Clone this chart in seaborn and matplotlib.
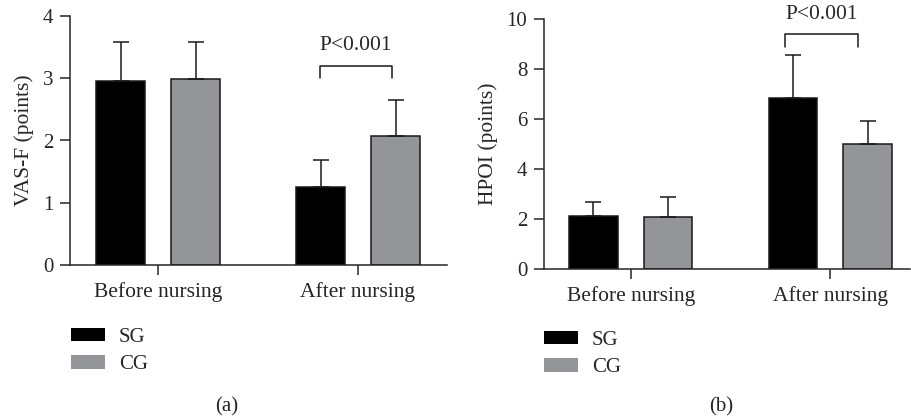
import numpy as np
import pandas as pd
import matplotlib
matplotlib.use("Agg")
import matplotlib.pyplot as plt
import seaborn as sns

categories = ["Before nursing", "After nursing"]
groups = ["SG", "CG"]
vas_sg = [2.96, 1.25]
vas_cg = [2.99, 2.08]
vas_sg_sd = [0.62, 0.44]
vas_cg_sd = [0.59, 0.57]
hpoi_sg = [2.11, 6.86]
hpoi_cg = [2.09, 5.01]
hpoi_sg_sd = [0.59, 1.71]
hpoi_cg_sd = [0.79, 0.90]
p_text = "P<0.001"

sns.set_style("ticks")
plt.rcParams["font.family"] = ["Liberation Serif", "DejaVu Serif"]
plt.rcParams["axes.linewidth"] = 1.1
plt.rcParams["xtick.major.width"] = 1.1
plt.rcParams["ytick.major.width"] = 1.1
plt.rcParams["xtick.major.size"] = 7
plt.rcParams["ytick.major.size"] = 7

palette = {"SG": "#000000", "CG": "#939598"}

fig = plt.figure(figsize=(9.11, 4.19), dpi=100)
ax_a = fig.add_axes([70/911, 1-265/419, (447-70)/911, 249/419])
ax_b = fig.add_axes([544/911, 1-269/419, (910-544)/911, 249.7/419])


def make_df(sg, cg):
    rows = []
    for g, vals in zip(groups, [sg, cg]):
        for c, v in zip(categories, vals):
            rows.append({"cat": c, "group": g, "value": v})
    return pd.DataFrame(rows)


def panel(ax, sg, cg, sg_sd, cg_sd, ylim, yticks, ylabel, xlim, bracket, legend_anchor):
    df = make_df(sg, cg)
    sns.barplot(data=df, x="cat", y="value", hue="group", order=categories,
                hue_order=groups, palette=palette, width=0.75, gap=0.35,
                errorbar=None, edgecolor="#1a1a1a", linewidth=1.1, ax=ax,
                saturation=1)
    for cont, vals, sds in zip(ax.containers, [sg, cg], [sg_sd, cg_sd]):
        xs = [b.get_x() + b.get_width() / 2 for b in cont]
        ax.errorbar(xs, vals, yerr=[np.zeros(len(sds)), sds], fmt="none",
                    ecolor="#1a1a1a", elinewidth=1.1, capsize=6, capthick=1.1,
                    zorder=1)
    ax.set_ylim(*ylim)
    ax.set_yticks(yticks)
    ax.set_xlim(*xlim)
    ax.set_xlabel("")
    ax.set_ylabel(ylabel, fontsize=15.5, labelpad=6)
    ax.tick_params(axis="y", labelsize=15, pad=5)
    ax.tick_params(axis="x", labelsize=15.5, pad=5)
    sns.despine(ax=ax)
    # significance bracket
    x0, x1, yb, yt, ytxt = bracket
    ax.plot([x0, x0, x1, x1], [yb, yt, yt, yb], color="#1a1a1a", lw=1.1,
            clip_on=False)
    ax.text((x0 + x1) / 2, ytxt, p_text, ha="center", va="center",
            fontsize=15.5, clip_on=False)
    sns.move_legend(ax, "upper left", bbox_to_anchor=legend_anchor,
                    bbox_transform=fig.transFigure, frameon=False, title=None,
                    fontsize=15, handlelength=1.65, handleheight=0.6,
                    handletextpad=0.65, labelspacing=0.4, borderpad=0,
                    borderaxespad=0)
    leg = ax.get_legend()
    for h in leg.legend_handles:
        h.set_edgecolor("none")


panel(ax_a, vas_sg, vas_cg, vas_sg_sd, vas_cg_sd, (0, 4), [0, 1, 2, 3, 4],
      "VAS-F (points)", (-0.44, 1.445), (0.81, 1.17, 3.0, 3.2, 3.52),
      (71/911, 1-328/419))
panel(ax_b, hpoi_sg, hpoi_cg, hpoi_sg_sd, hpoi_cg_sd, (0, 10),
      [0, 2, 4, 6, 8, 10], "HPOI (points)", (-0.435, 1.4),
      (0.775, 1.14, 8.9, 9.4, 10.2), (544/911, 1-331/419))

fig.text(227/911, 1-407/419, "(a)", ha="center", va="center", fontsize=15)
fig.text(721/911, 1-407/419, "(b)", ha="center", va="center", fontsize=15)

fig.savefig("out.png", dpi=100)
